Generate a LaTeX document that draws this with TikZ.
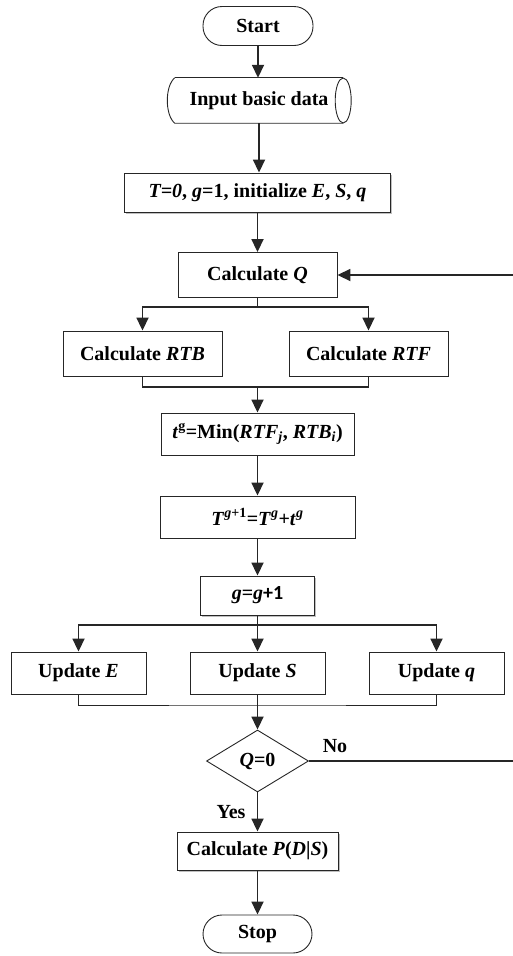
\documentclass[tikz,border=0pt]{standalone}
\usepackage{fontspec}
\setmainfont{Liberation Serif}
\newfontfamily\carl{Carlito}
\usetikzlibrary{arrows.meta,shapes.geometric,shadows}
\begin{document}
\begin{tikzpicture}[x=1pt,y=-1pt,
  font=\fontsize{20}{24}\selectfont\bfseries,
  box/.style={draw=black!85, line width=0.9pt, rectangle, inner sep=0pt, fill=white},
  outl/.style={draw=black!85, line width=0.9pt},
  shd/.style={drop shadow={shadow xshift=1.5pt, shadow yshift=-1.5pt, fill=black!25, opacity=1}},
  term/.style={box, rounded corners=19pt},
  flow/.style={line width=1.8pt, draw=black!85, -{Triangle[length=13pt,width=12pt]}},
  ln/.style={line width=1.8pt, draw=black!85},
  thinln/.style={line width=1pt, draw=black!85}]
\useasboundingbox (0,0) rectangle (512,956);

\node[term, minimum width=110pt, minimum height=39pt] (start) at (258,26) {Start};
\node[inner sep=0pt, minimum width=184pt, minimum height=45pt] (in) at (259,100.5) {Input basic data};
\draw[outl] ([xshift=8pt]in.north west) .. controls ([xshift=-2pt,yshift=-8pt]in.north west) and ([xshift=-2pt,yshift=8pt]in.south west) .. ([xshift=8pt]in.south west) -- ([xshift=-8pt]in.south east);
\draw[outl] ([xshift=8pt]in.north west) -- ([xshift=-8pt]in.north east);
\draw[outl] ([xshift=-8pt]in.east) ellipse [x radius=8, y radius=22.5];

\node[box, shd, minimum width=266pt, minimum height=39pt] (t0) at (257.5,192.5)
  {\textit{T=0}, \textit{g}=1, initialize \textit{E}, \textit{S}, \textit{q}};
\node[box, minimum width=159pt, minimum height=45pt] (q) at (257.5,275) {Calculate \textit{Q}};
\node[box, minimum width=159pt, minimum height=45pt] (rtb) at (142.5,353.5) {Calculate \textit{RTB}};
\node[box, minimum width=159pt, minimum height=45pt] (rtf) at (368.5,353.5) {Calculate \textit{RTF}};
\node[box, minimum width=193pt, minimum height=42pt] (tg) at (257.5,434)
  {\textit{t}\textsuperscript{g}=Min(\textit{RTF}\textsubscript{\textit{j}}, \textit{RTB}\textsubscript{\textit{i}})};
\node[box, minimum width=195pt, minimum height=42pt] (T1) at (257.5,517)
  {\textit{T}\textsuperscript{\textit{g}+1}=\textit{T}\textsuperscript{\textit{g}}+\textit{t}\textsuperscript{\textit{g}}};
\node[box, shd, minimum width=114pt, minimum height=39pt] (g) at (257.5,595.5)
  {\textit{g}=\textit{g}{\carl+1}};
\node[box, minimum width=135pt, minimum height=42pt] (ue) at (78.5,673) {Update \textit{E}};
\node[box, minimum width=135pt, minimum height=42pt] (us) at (257.5,673) {Update \textit{S}};
\node[box, minimum width=135pt, minimum height=42pt] (uq) at (436.5,673) {Update \textit{q}};
\node[box, diamond, aspect=1.65, minimum width=102pt, minimum height=62pt] (dia) at (257.5,761) {\textit{Q}=0};
\node (no) at (335,746) {No};
\node (yes) at (231,812) {Yes};
\node[box, shd, minimum width=161pt, minimum height=38pt] (p) at (257.5,851) {Calculate \textit{P}(\textit{D}|\textit{S})};
\node[term, minimum width=109pt, minimum height=38pt] (stop) at (257.5,934) {Stop};

\draw[flow] (start) -- (start |- in.north);
\draw[flow] (in) -- (in |- t0.north);
\draw[flow] (t0) -- (q);
\coordinate (s1) at (257.5,307);
\draw[ln] (q.south) -- (s1);
\draw[flow] (s1) -| (rtb.north);
\draw[flow] (s1) -| (rtf.north);
\coordinate (m1) at (257.5,387);
\draw[ln] (rtb.south) |- (m1) -| (rtf.south);
\draw[flow] (m1) -- (tg.north);
\draw[flow] (tg) -- (T1);
\draw[flow] (T1) -- (g);
\coordinate (s2) at (257.5,625);
\draw[ln] (g.south) -- (s2);
\draw[flow] (s2) -| (ue.north);
\draw[flow] (s2) -- (us.north);
\draw[flow] (s2) -| (uq.north);
\coordinate (m2) at (257.5,705);
\draw[thinln] (ue.south) |- (m2) -| (uq.south);
\draw[flow] (us.south) -- (dia.north);
\draw[flow] (dia.east) -- (530,761) |- (q.east);
\draw[flow] (dia) -- (p);
\draw[flow] (p) -- (stop);
\end{tikzpicture}
\end{document}
